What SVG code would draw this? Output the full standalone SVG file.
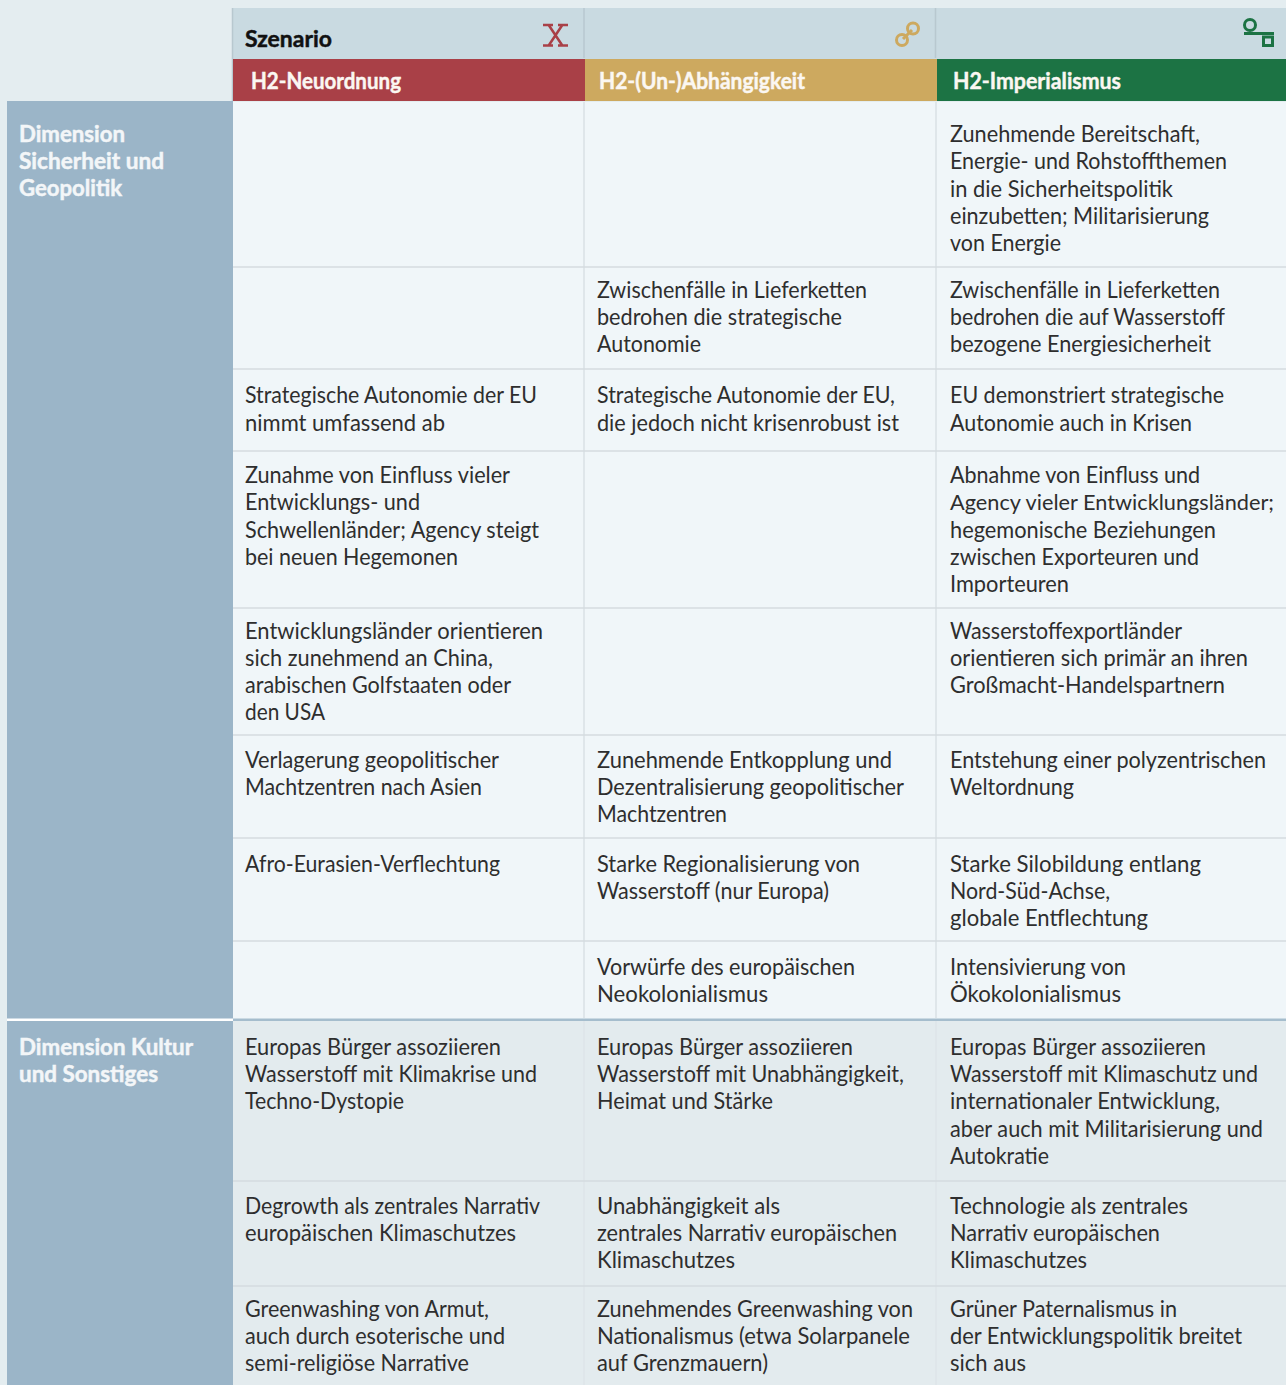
<svg xmlns="http://www.w3.org/2000/svg" width="1286" height="1385" viewBox="0 0 1286 1385">
<style>
text{font-family:"Lato","Noto Sans",sans-serif}
.t{font-size:23px;fill:#2e2e2e}
.h{font-size:22px;font-weight:700;fill:#fbf7f2;stroke:#fbf7f2;stroke-width:.45}
.d{font-size:23px;font-weight:700;fill:#f3f6f8;stroke:#f3f6f8;stroke-width:.5}
.s{font-size:22px;font-weight:700;fill:#111;stroke:#111;stroke-width:.45}
.gv{fill:none;stroke:#dfe6ea;stroke-width:2}
.gh{fill:none;stroke:#d5dcdf;stroke-width:1.5}
.i{fill:none;stroke-width:3}
</style>
<rect width="1286" height="1385" fill="#e4edf0"/>
<rect x="232" y="8" width="1054" height="51" fill="#c9dae1"/>
<path d="M232.500 8V101M584 8V58M935.500 8V58" stroke="#b8c8cf" stroke-width="1.500" fill="none"/>
<rect x="233" y="59" width="352" height="42" fill="#a94047"/>
<rect x="585" y="59" width="352" height="42" fill="#cda95f"/>
<rect x="937" y="59" width="349" height="42" fill="#1c7344"/>
<rect x="233" y="102" width="1053" height="918" fill="#f0f6f9"/>
<rect x="233" y="1021" width="1053" height="364" fill="#e3ebee"/>
<rect x="7" y="101" width="226" height="918" fill="#9bb5c8"/>
<rect x="7" y="1021" width="226" height="364" fill="#9bb5c8"/>
<rect x="7" y="1018.500" width="226" height="2.500" fill="#fff"/>
<rect x="233" y="1018.500" width="1053" height="2.500" fill="#a5bdcd"/>
<g id="connectors">
<path class="gv" d="M584 102V1018M584 1021V1385M936 102V1018M936 1021V1385"/>
<path class="gh" d="M233 267H1286M233 369H1286M233 451H1286M233 608H1286M233 735H1286M233 838H1286M233 941H1286M233 1181H1286M233 1286H1286"/>
</g>
<g id="icon-x"><path fill="none" stroke="#a94047" stroke-width="2.500" d="M549 25.500L562 45M562 25.500L549 45M543 25H553M558 25H568M543 45.500H553M558 45.500H568"/></g>
<g id="icon-link"><circle class="i" stroke="#cda95f" cx="902" cy="40" r="5.500"/><circle class="i" stroke="#cda95f" cx="913" cy="28.500" r="5.500"/><path class="i" stroke="#cda95f" d="M903 39L912 30"/></g>
<g id="icon-balance"><circle class="i" stroke="#1c7344" cx="1250" cy="25" r="5.500"/><path class="i" stroke="#1c7344" d="M1244 33.500H1274"/><rect class="i" stroke="#1c7344" x="1263.500" y="37" width="9" height="8.500"/></g>
<g id="header">
<text class="s" x="245" y="46.500" textLength="87" lengthAdjust="spacingAndGlyphs">Szenario</text>
<text class="h" x="251" y="89" textLength="150" lengthAdjust="spacingAndGlyphs">H2-Neuordnung</text>
<text class="h" x="599" y="89" textLength="206" lengthAdjust="spacingAndGlyphs">H2-(Un-)Abhängigkeit</text>
<text class="h" x="953" y="89" textLength="168" lengthAdjust="spacingAndGlyphs">H2-Imperialismus</text>
</g>
<g id="dim1">
<text class="d" x="19" y="142" textLength="106" lengthAdjust="spacingAndGlyphs">Dimension</text>
<text class="d" x="19" y="169" textLength="145" lengthAdjust="spacingAndGlyphs">Sicherheit und</text>
<text class="d" x="19" y="196" textLength="103" lengthAdjust="spacingAndGlyphs">Geopolitik</text>
</g>
<g id="dim2">
<text class="d" x="19" y="1054.500" textLength="174" lengthAdjust="spacingAndGlyphs">Dimension Kultur</text>
<text class="d" x="19" y="1081.500" textLength="139" lengthAdjust="spacingAndGlyphs">und Sonstiges</text>
</g>
<g id="cells">
<text class="t" x="950" y="142" textLength="250" lengthAdjust="spacingAndGlyphs">Zunehmende Bereitschaft,</text>
<text class="t" x="950" y="169.300" textLength="277" lengthAdjust="spacingAndGlyphs">Energie- und Rohstoffthemen</text>
<text class="t" x="950" y="196.500" textLength="223" lengthAdjust="spacingAndGlyphs">in die Sicherheitspolitik</text>
<text class="t" x="950" y="223.800" textLength="259" lengthAdjust="spacingAndGlyphs">einzubetten; Militarisierung</text>
<text class="t" x="950" y="251" textLength="111" lengthAdjust="spacingAndGlyphs">von Energie</text>
<text class="t" x="597" y="297.500" textLength="270" lengthAdjust="spacingAndGlyphs">Zwischenfälle in Lieferketten</text>
<text class="t" x="597" y="324.800" textLength="245" lengthAdjust="spacingAndGlyphs">bedrohen die strategische</text>
<text class="t" x="597" y="352" textLength="104" lengthAdjust="spacingAndGlyphs">Autonomie</text>
<text class="t" x="950" y="297.500" textLength="270" lengthAdjust="spacingAndGlyphs">Zwischenfälle in Lieferketten</text>
<text class="t" x="950" y="324.800" textLength="275" lengthAdjust="spacingAndGlyphs">bedrohen die auf Wasserstoff</text>
<text class="t" x="950" y="352" textLength="261" lengthAdjust="spacingAndGlyphs">bezogene Energiesicherheit</text>
<text class="t" x="245" y="403" textLength="292" lengthAdjust="spacingAndGlyphs">Strategische Autonomie der EU</text>
<text class="t" x="245" y="430.500" textLength="200" lengthAdjust="spacingAndGlyphs">nimmt umfassend ab</text>
<text class="t" x="597" y="403" textLength="298" lengthAdjust="spacingAndGlyphs">Strategische Autonomie der EU,</text>
<text class="t" x="597" y="430.500" textLength="302" lengthAdjust="spacingAndGlyphs">die jedoch nicht krisenrobust ist</text>
<text class="t" x="950" y="403" textLength="274" lengthAdjust="spacingAndGlyphs">EU demonstriert strategische</text>
<text class="t" x="950" y="430.500" textLength="242" lengthAdjust="spacingAndGlyphs">Autonomie auch in Krisen</text>
<text class="t" x="245" y="483" textLength="265" lengthAdjust="spacingAndGlyphs">Zunahme von Einfluss vieler</text>
<text class="t" x="245" y="510.300" textLength="175" lengthAdjust="spacingAndGlyphs">Entwicklungs- und</text>
<text class="t" x="245" y="537.600" textLength="294" lengthAdjust="spacingAndGlyphs">Schwellenländer; Agency steigt</text>
<text class="t" x="245" y="564.800" textLength="213" lengthAdjust="spacingAndGlyphs">bei neuen Hegemonen</text>
<text class="t" x="950" y="483" textLength="250" lengthAdjust="spacingAndGlyphs">Abnahme von Einfluss und</text>
<text class="t" x="950" y="510.300" font-size="22" style="font-size:22px" textLength="324" lengthAdjust="spacingAndGlyphs">Agency vieler Entwicklungsländer;</text>
<text class="t" x="950" y="537.600" textLength="266" lengthAdjust="spacingAndGlyphs">hegemonische Beziehungen</text>
<text class="t" x="950" y="564.800" textLength="249" lengthAdjust="spacingAndGlyphs">zwischen Exporteuren und</text>
<text class="t" x="950" y="592" textLength="119" lengthAdjust="spacingAndGlyphs">Importeuren</text>
<text class="t" x="245" y="639" textLength="298" lengthAdjust="spacingAndGlyphs">Entwicklungsländer orientieren</text>
<text class="t" x="245" y="666" textLength="248" lengthAdjust="spacingAndGlyphs">sich zunehmend an China,</text>
<text class="t" x="245" y="693" textLength="266" lengthAdjust="spacingAndGlyphs">arabischen Golfstaaten oder</text>
<text class="t" x="245" y="720" textLength="80" lengthAdjust="spacingAndGlyphs">den USA</text>
<text class="t" x="950" y="639" textLength="232" lengthAdjust="spacingAndGlyphs">Wasserstoffexportländer</text>
<text class="t" x="950" y="666" textLength="298" lengthAdjust="spacingAndGlyphs">orientieren sich primär an ihren</text>
<text class="t" x="950" y="693" textLength="275" lengthAdjust="spacingAndGlyphs">Großmacht-Handelspartnern</text>
<text class="t" x="245" y="767.500" textLength="254" lengthAdjust="spacingAndGlyphs">Verlagerung geopolitischer</text>
<text class="t" x="245" y="794.800" textLength="237" lengthAdjust="spacingAndGlyphs">Machtzentren nach Asien</text>
<text class="t" x="597" y="767.500" textLength="295" lengthAdjust="spacingAndGlyphs">Zunehmende Entkopplung und</text>
<text class="t" x="597" y="794.800" textLength="307" lengthAdjust="spacingAndGlyphs">Dezentralisierung geopolitischer</text>
<text class="t" x="597" y="822" textLength="130" lengthAdjust="spacingAndGlyphs">Machtzentren</text>
<text class="t" x="950" y="767.500" textLength="316" lengthAdjust="spacingAndGlyphs">Entstehung einer polyzentrischen</text>
<text class="t" x="950" y="794.800" textLength="124" lengthAdjust="spacingAndGlyphs">Weltordnung</text>
<text class="t" x="245" y="871.500" textLength="255" lengthAdjust="spacingAndGlyphs">Afro-Eurasien-Verflechtung</text>
<text class="t" x="597" y="871.500" textLength="263" lengthAdjust="spacingAndGlyphs">Starke Regionalisierung von</text>
<text class="t" x="597" y="898.800" textLength="232" lengthAdjust="spacingAndGlyphs">Wasserstoff (nur Europa)</text>
<text class="t" x="950" y="871.500" textLength="251" lengthAdjust="spacingAndGlyphs">Starke Silobildung entlang</text>
<text class="t" x="950" y="898.800" textLength="160" lengthAdjust="spacingAndGlyphs">Nord-Süd-Achse,</text>
<text class="t" x="950" y="926" textLength="198" lengthAdjust="spacingAndGlyphs">globale Entflechtung</text>
<text class="t" x="597" y="974.500" textLength="258" lengthAdjust="spacingAndGlyphs">Vorwürfe des europäischen</text>
<text class="t" x="597" y="1001.800" textLength="171" lengthAdjust="spacingAndGlyphs">Neokolonialismus</text>
<text class="t" x="950" y="974.500" textLength="176" lengthAdjust="spacingAndGlyphs">Intensivierung von</text>
<text class="t" x="950" y="1001.800" textLength="171" lengthAdjust="spacingAndGlyphs">Ökokolonialismus</text>
<text class="t" x="245" y="1054.700" textLength="256" lengthAdjust="spacingAndGlyphs">Europas Bürger assoziieren</text>
<text class="t" x="245" y="1082" textLength="292" lengthAdjust="spacingAndGlyphs">Wasserstoff mit Klimakrise und</text>
<text class="t" x="245" y="1109.200" textLength="159" lengthAdjust="spacingAndGlyphs">Techno-Dystopie</text>
<text class="t" x="597" y="1054.700" textLength="256" lengthAdjust="spacingAndGlyphs">Europas Bürger assoziieren</text>
<text class="t" x="597" y="1082" textLength="307" lengthAdjust="spacingAndGlyphs">Wasserstoff mit Unabhängigkeit,</text>
<text class="t" x="597" y="1109.200" textLength="176" lengthAdjust="spacingAndGlyphs">Heimat und Stärke</text>
<text class="t" x="950" y="1054.700" textLength="256" lengthAdjust="spacingAndGlyphs">Europas Bürger assoziieren</text>
<text class="t" x="950" y="1082" textLength="308" lengthAdjust="spacingAndGlyphs">Wasserstoff mit Klimaschutz und</text>
<text class="t" x="950" y="1109.200" textLength="270" lengthAdjust="spacingAndGlyphs">internationaler Entwicklung,</text>
<text class="t" x="950" y="1136.500" textLength="313" lengthAdjust="spacingAndGlyphs">aber auch mit Militarisierung und</text>
<text class="t" x="950" y="1163.800" textLength="99" lengthAdjust="spacingAndGlyphs">Autokratie</text>
<text class="t" x="245" y="1213.700" textLength="295" lengthAdjust="spacingAndGlyphs">Degrowth als zentrales Narrativ</text>
<text class="t" x="245" y="1241" textLength="271" lengthAdjust="spacingAndGlyphs">europäischen Klimaschutzes</text>
<text class="t" x="597" y="1213.700" textLength="183" lengthAdjust="spacingAndGlyphs">Unabhängigkeit als</text>
<text class="t" x="597" y="1241" textLength="300" lengthAdjust="spacingAndGlyphs">zentrales Narrativ europäischen</text>
<text class="t" x="597" y="1268" textLength="138" lengthAdjust="spacingAndGlyphs">Klimaschutzes</text>
<text class="t" x="950" y="1213.700" textLength="238" lengthAdjust="spacingAndGlyphs">Technologie als zentrales</text>
<text class="t" x="950" y="1241" textLength="210" lengthAdjust="spacingAndGlyphs">Narrativ europäischen</text>
<text class="t" x="950" y="1268" textLength="137" lengthAdjust="spacingAndGlyphs">Klimaschutzes</text>
<text class="t" x="245" y="1316.700" textLength="244" lengthAdjust="spacingAndGlyphs">Greenwashing von Armut,</text>
<text class="t" x="245" y="1344" textLength="260" lengthAdjust="spacingAndGlyphs">auch durch esoterische und</text>
<text class="t" x="245" y="1371" textLength="224" lengthAdjust="spacingAndGlyphs">semi-religiöse Narrative</text>
<text class="t" x="597" y="1316.700" textLength="316" lengthAdjust="spacingAndGlyphs">Zunehmendes Greenwashing von</text>
<text class="t" x="597" y="1344" textLength="313" lengthAdjust="spacingAndGlyphs">Nationalismus (etwa Solarpanele</text>
<text class="t" x="597" y="1371" textLength="171" lengthAdjust="spacingAndGlyphs">auf Grenzmauern)</text>
<text class="t" x="950" y="1316.700" textLength="227" lengthAdjust="spacingAndGlyphs">Grüner Paternalismus in</text>
<text class="t" x="950" y="1344" textLength="292" lengthAdjust="spacingAndGlyphs">der Entwicklungspolitik breitet</text>
<text class="t" x="950" y="1371" textLength="76" lengthAdjust="spacingAndGlyphs">sich aus</text>
</g>
</svg>
